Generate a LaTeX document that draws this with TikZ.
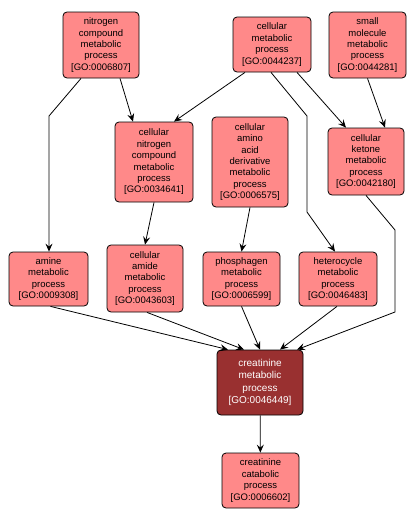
\documentclass[tikz,border=0pt]{standalone}
\usepackage{fontspec}
\setmainfont{Liberation Sans}
\usepackage{tikz}
\usetikzlibrary{arrows.meta,positioning,calc}

\definecolor{goterm}{RGB}{255,137,137}
\definecolor{gofocus}{RGB}{153,48,48}

\begin{document}
\begin{tikzpicture}[x=1pt,y=-1pt,
    term/.style={draw=black, line width=0.8pt, fill=goterm, rounded corners=4pt, align=center,
      inner sep=0pt, font=\fontsize{9.5}{11.4}\selectfont},
    focus/.style={term, fill=gofocus, text=white, font=\fontsize{10}{12.5}\selectfont},
    edge/.style={-{Stealth[length=8pt,width=7pt,inset=3pt]}, black, line width=0.8pt}]
    \useasboundingbox (0,0) rectangle (417,522);
    % top row
    \node[term, minimum width=76pt, minimum height=66pt] (nitro) at (101,45)
      {nitrogen\\compound\\metabolic\\process\\{[GO:0006807]}};
    \node[term, minimum width=78pt, minimum height=55pt] (cellmet) at (272,44.5)
      {cellular\\metabolic\\process\\{[GO:0044237]}};
    \node[term, minimum width=77pt, minimum height=66pt] (smallmol) at (367.5,45)
      {small\\molecule\\metabolic\\process\\{[GO:0044281]}};
    % second row
    \node[term, minimum width=78pt, minimum height=80pt] (cellnitro) at (154,162)
      {cellular\\nitrogen\\compound\\metabolic\\process\\{[GO:0034641]}};
    \node[term, minimum width=76pt, minimum height=90pt] (aminoacid) at (250,162)
      {cellular\\amino\\acid\\derivative\\metabolic\\process\\{[GO:0006575]}};
    \node[term, minimum width=76pt, minimum height=67pt] (ketone) at (366,161.5)
      {cellular\\ketone\\metabolic\\process\\{[GO:0042180]}};
    % third row
    \node[term, minimum width=79pt, minimum height=54pt] (amine) at (48.5,279)
      {amine\\metabolic\\process\\{[GO:0009308]}};
    \node[term, minimum width=76pt, minimum height=67pt] (amide) at (145,278.5)
      {cellular\\amide\\metabolic\\process\\{[GO:0043603]}};
    \node[term, minimum width=77pt, minimum height=54pt] (phospha) at (241.5,279)
      {phosphagen\\metabolic\\process\\{[GO:0006599]}};
    \node[term, minimum width=78pt, minimum height=54pt] (hetero) at (338,279)
      {heterocycle\\metabolic\\process\\{[GO:0046483]}};
    % focus term and child
    \node[focus, minimum width=86pt, minimum height=65pt] (creat) at (260,382.5)
      {creatinine\\metabolic\\process\\{[GO:0046449]}};
    \node[term, minimum width=77pt, minimum height=55pt] (catab) at (260.5,480.5)
      {creatinine\\catabolic\\process\\{[GO:0006602]}};

    % bends
    \coordinate (bendA) at (49,116);
    \coordinate (bendC1) at (307,116);
    \coordinate (bendC2) at (307,212);
    \coordinate (bendF1) at (395,230);
    \coordinate (bendF2) at (395,312);

    % edges
    \draw[edge] ([xshift=-20pt]nitro.south) -- (bendA) -- (amine.north -| bendA);
    \draw[edge] ([xshift=19pt]nitro.south) -- ([xshift=-21pt]cellnitro.north);
    \draw[edge] ([xshift=-27pt]cellmet.south) -- ([xshift=20pt]cellnitro.north);
    \draw[edge] ([xshift=-1pt]cellmet.south) -- (bendC1) -- (bendC2) -- ([xshift=-3pt]hetero.north);
    \draw[edge] ([xshift=25pt]cellmet.south) -- ([xshift=-20pt]ketone.north);
    \draw[edge] (smallmol.south) -- ([xshift=19pt]ketone.north);
    \draw[edge] (cellnitro.south) -- (amide.north);
    \draw[edge] (aminoacid.south) -- (phospha.north);
    \draw[edge] ([xshift=2pt]amine.south) -- ([xshift=-32pt]creat.north);
    \draw[edge] ([xshift=2pt]amide.south) -- ([xshift=-16pt]creat.north);
    \draw[edge] (phospha.south) -- (creat.north);
    \draw[edge] ([xshift=-1pt]hetero.south) -- ([xshift=20pt]creat.north);
    \draw[edge] (ketone.south) -- (bendF1) -- (bendF2) -- ([xshift=37pt]creat.north);
    \draw[edge] (creat) -- (catab);
\end{tikzpicture}
\end{document}
